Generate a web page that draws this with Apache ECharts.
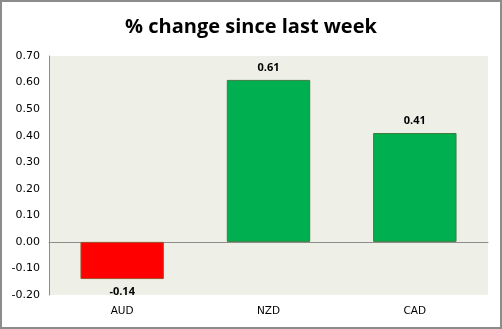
<!DOCTYPE html>
<html>
<head>
<meta charset="utf-8">
<script src="https://cdn.jsdelivr.net/npm/echarts@6/dist/echarts.min.js"></script>
<style>
html,body{margin:0;padding:0;background:#fff;overflow:hidden;}
#frame{position:absolute;left:0;top:0;width:502px;height:329px;box-sizing:border-box;border:2px solid #8c8c8c;background:#fff;}
#chart{position:absolute;left:0;top:0;width:498px;height:325px;}
</style>
</head>
<body>
<div id="frame"><div id="chart"></div></div>
<script>
// Weekly currency moves, in percent
const categories = ['AUD', 'NZD', 'CAD'];
const values = [-0.14, 0.61, 0.41];
const yTicks = { min: -0.2, max: 0.7, interval: 0.1 };

const chart = echarts.init(document.getElementById('chart'));
chart.setOption({
  animation: false,
  title: {
    text: '% change since last week',
    left: 'center',
    top: 10,
    textStyle: { fontFamily: 'Open Sans', fontWeight: 'bold', fontSize: 20, color: '#000' }
  },
  grid: { left: 47, right: 12, top: 54, bottom: 32, show: true, backgroundColor: '#eef0e8', borderWidth: 0 },
  xAxis: {
    type: 'category',
    data: categories,
    axisLine: { show: true, onZero: true, lineStyle: { color: '#8c8c8c' } },
    axisTick: { show: false },
    axisLabel: { fontFamily: 'DejaVu Sans', fontSize: 10.5, color: '#000', margin: 11 },
    position: 'bottom'
  },
  yAxis: {
    type: 'value',
    min: yTicks.min, max: yTicks.max, interval: yTicks.interval,
    axisLine: { show: true, lineStyle: { color: '#8c8c8c' } },
    axisTick: { show: false },
    splitLine: { show: false },
    axisLabel: { fontFamily: 'DejaVu Sans', fontSize: 11, color: '#000', margin: 9,
      formatter: v => v.toFixed(2) }
  },
  series: [{
    type: 'bar',
    barWidth: '57%',
    data: values.map(v => ({
      value: v,
      itemStyle: v < 0
        ? { color: '#ff0000', borderColor: '#a0522d', borderWidth: 1 }
        : { color: '#00b050', borderColor: '#3c7d3c', borderWidth: 1 }
    })),
    label: {
      show: true,
      position: 'outside',
      distance: 7,
      fontFamily: 'Open Sans', fontWeight: 'bold', fontSize: 11, color: '#000',
      formatter: p => p.value.toFixed(2)
    }
  }]
});
</script>
</body>
</html>
